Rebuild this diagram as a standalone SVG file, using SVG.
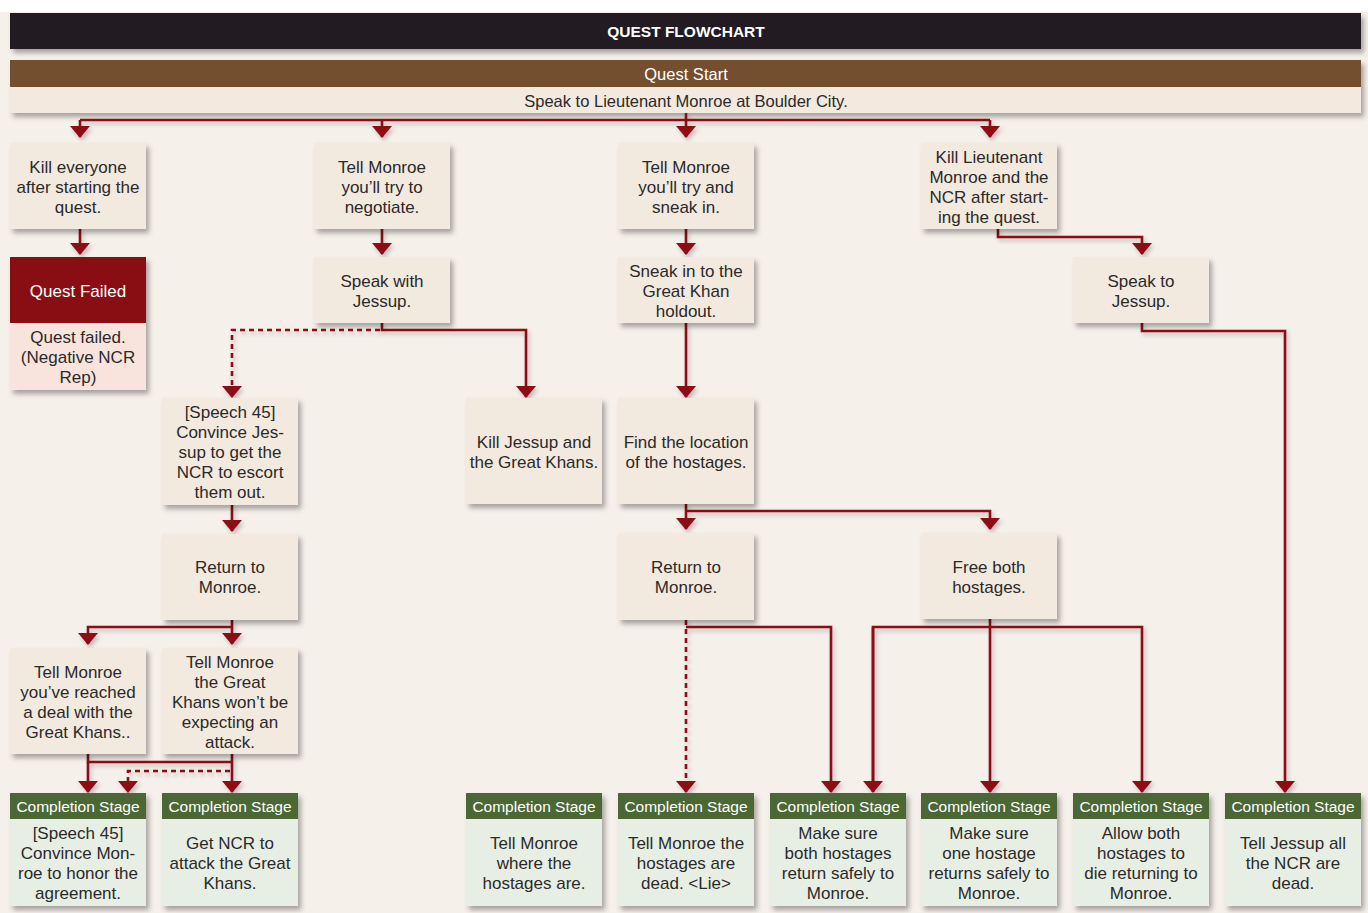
<svg xmlns="http://www.w3.org/2000/svg" width="1368" height="913" viewBox="0 0 1368 913">
<defs>
<filter id="sh" x="-10%" y="-10%" width="125%" height="130%">
<feDropShadow dx="3" dy="4" stdDeviation="2.5" flood-color="#000" flood-opacity="0.32"/>
</filter>
<filter id="shl" x="-5%" y="-5%" width="115%" height="120%">
<feDropShadow dx="2" dy="3" stdDeviation="2" flood-color="#000" flood-opacity="0.22"/>
</filter>
<marker id="ah" viewBox="0 -10 12 20" markerWidth="12" markerHeight="20" refX="11" refY="0" orient="auto" markerUnits="userSpaceOnUse">
<path d="M0,-10 L12,0 L0,10 Z" fill="#8b1016"/>
</marker>
<style>
.bg{fill:#f6f0ea}
.box{fill:#f2e9df;filter:url(#sh)}
.t{font-family:"Liberation Sans",Arial,sans-serif;font-size:17px;fill:#2b2a29;text-anchor:middle}
.w{fill:#ffffff}
.ghd{fill:#4a6735}
.gbd{fill:#e7eee4}
.rhd{fill:#890e13}
.rbd{fill:#f8e4dd}
.c{fill:none;stroke:#8b1016;stroke-width:2.6}
.d{stroke-dasharray:5 4}
.a{marker-end:url(#ah)}
</style>
</defs>
<rect x="0" y="0" width="1368" height="913" class="bg"/>
<rect x="0" y="0" width="1368" height="12" fill="#ffffff"/>

<g id="title">
<rect x="10" y="13" width="1351" height="36" fill="#231f20" filter="url(#sh)"/>
<text x="686" y="37" class="t w" style="font-weight:bold;font-size:15.5px">QUEST FLOWCHART</text>
</g>

<g id="start">
<rect x="10" y="60" width="1351" height="53" class="box"/>
<rect x="10" y="60" width="1351" height="27" fill="#734f2f"/>
<text x="686" y="80" class="t w" style="font-size:16.5px">Quest Start</text>
<text x="686" y="107" class="t" style="font-size:16.5px">Speak to Lieutenant Monroe at Boulder City.</text>
</g>

<g id="connectors" filter="url(#shl)">
<path class="c" d="M686,113 V120 M80,120 H990"/>
<path class="c a" d="M80,120 V137"/>
<path class="c a" d="M382,120 V137"/>
<path class="c a" d="M686,120 V137"/>
<path class="c a" d="M990,120 V137"/>

<path class="c a" d="M80,229 V254"/>
<path class="c a" d="M382,229 V254"/>
<path class="c a" d="M686,229 V254"/>
<path class="c a" d="M998,229 V237 H1142 V254"/>

<path class="c a" d="M382,323 V330 H526 V397"/>
<path class="c d a" d="M380,330 H232 V397"/>
<path class="c a" d="M686,323 V397"/>
<path class="c a" d="M1142,323 V331 H1285 V792"/>

<path class="c a" d="M232,505 V531"/>
<path class="c a" d="M686,504 V529"/>
<path class="c a" d="M686,511 H990 V529"/>

<path class="c a" d="M232,620 V644"/>
<path class="c a" d="M232,627 H88 V644"/>

<path class="c" d="M88,754 V762 H232"/>
<path class="c a" d="M88,762 V792"/>
<path class="c a" d="M232,754 V792"/>
<path class="c d a" d="M230,771 H128 V792"/>

<path class="c d a" d="M686,620 V792"/>
<path class="c a" d="M686,627 H831 V792"/>
<path class="c a" d="M990,619 V792"/>
<path class="c a" d="M873,792 V627 H1142 V792"/>
<path class="c a" d="M873,627 V792"/>
</g>

<g id="n-kill-everyone">
<rect x="10" y="143" width="136" height="86" class="box"/>
<text class="t"><tspan x="78" y="173">Kill everyone</tspan><tspan x="78" y="193">after starting the</tspan><tspan x="78" y="213">quest.</tspan></text>
</g>
<g id="n-negotiate">
<rect x="314" y="143" width="136" height="86" class="box"/>
<text class="t"><tspan x="382" y="173">Tell Monroe</tspan><tspan x="382" y="193">you’ll try to</tspan><tspan x="382" y="213">negotiate.</tspan></text>
</g>
<g id="n-sneak">
<rect x="618" y="143" width="136" height="86" class="box"/>
<text class="t"><tspan x="686" y="173">Tell Monroe</tspan><tspan x="686" y="193">you’ll try and</tspan><tspan x="686" y="213">sneak in.</tspan></text>
</g>
<g id="n-kill-monroe">
<rect x="921" y="143" width="136" height="86" class="box"/>
<text class="t"><tspan x="989" y="163">Kill Lieutenant</tspan><tspan x="989" y="183">Monroe and the</tspan><tspan x="989" y="203">NCR after start-</tspan><tspan x="989" y="223">ing the quest.</tspan></text>
</g>

<g id="n-failed">
<rect x="10" y="257" width="136" height="133" class="box"/>
<rect x="10" y="323" width="136" height="67" class="rbd"/>
<rect x="10" y="257" width="136" height="66" class="rhd"/>
<text x="78" y="297" class="t w">Quest Failed</text>
<text class="t"><tspan x="78" y="343">Quest failed.</tspan><tspan x="78" y="363">(Negative NCR</tspan><tspan x="78" y="383">Rep)</tspan></text>
</g>
<g id="n-speak-jessup">
<rect x="314" y="257" width="136" height="66" class="box"/>
<text class="t"><tspan x="382" y="287">Speak with</tspan><tspan x="382" y="307">Jessup.</tspan></text>
</g>
<g id="n-sneak-holdout">
<rect x="618" y="257" width="136" height="66" class="box"/>
<text class="t"><tspan x="686" y="277">Sneak in to the</tspan><tspan x="686" y="297">Great Khan</tspan><tspan x="686" y="317">holdout.</tspan></text>
</g>
<g id="n-speak-to-jessup">
<rect x="1073" y="257" width="136" height="66" class="box"/>
<text class="t"><tspan x="1141" y="287">Speak to</tspan><tspan x="1141" y="307">Jessup.</tspan></text>
</g>

<g id="n-speech-jessup">
<rect x="162" y="398" width="136" height="107" class="box"/>
<text class="t"><tspan x="230" y="418">[Speech 45]</tspan><tspan x="230" y="438">Convince Jes-</tspan><tspan x="230" y="458">sup to get the</tspan><tspan x="230" y="478">NCR to escort</tspan><tspan x="230" y="498">them out.</tspan></text>
</g>
<g id="n-kill-jessup">
<rect x="466" y="398" width="136" height="106" class="box"/>
<text class="t"><tspan x="534" y="448">Kill Jessup and</tspan><tspan x="534" y="468">the Great Khans.</tspan></text>
</g>
<g id="n-find">
<rect x="618" y="398" width="136" height="106" class="box"/>
<text class="t"><tspan x="686" y="448">Find the location</tspan><tspan x="686" y="468">of the hostages.</tspan></text>
</g>

<g id="n-return1">
<rect x="162" y="534" width="136" height="86" class="box"/>
<text class="t"><tspan x="230" y="573">Return to</tspan><tspan x="230" y="593">Monroe.</tspan></text>
</g>
<g id="n-return2">
<rect x="618" y="533" width="136" height="87" class="box"/>
<text class="t"><tspan x="686" y="573">Return to</tspan><tspan x="686" y="593">Monroe.</tspan></text>
</g>
<g id="n-free">
<rect x="921" y="533" width="136" height="86" class="box"/>
<text class="t"><tspan x="989" y="573">Free both</tspan><tspan x="989" y="593">hostages.</tspan></text>
</g>

<g id="n-deal">
<rect x="10" y="648" width="136" height="106" class="box"/>
<text class="t"><tspan x="78" y="678">Tell Monroe</tspan><tspan x="78" y="698">you’ve reached</tspan><tspan x="78" y="718">a deal with the</tspan><tspan x="78" y="738">Great Khans..</tspan></text>
</g>
<g id="n-attack">
<rect x="162" y="648" width="136" height="106" class="box"/>
<text class="t"><tspan x="230" y="668">Tell Monroe</tspan><tspan x="230" y="688">the Great</tspan><tspan x="230" y="708">Khans won’t be</tspan><tspan x="230" y="728">expecting an</tspan><tspan x="230" y="748">attack.</tspan></text>
</g>

<g id="c-honor">
<rect x="10" y="793" width="136" height="113" class="gbd" filter="url(#sh)"/>
<rect x="10" y="793" width="136" height="26" class="ghd"/>
<text x="78" y="812" class="t w" style="font-size:15.5px">Completion Stage</text>
<text class="t"><tspan x="78" y="839">[Speech 45]</tspan><tspan x="78" y="859">Convince Mon-</tspan><tspan x="78" y="879">roe to honor the</tspan><tspan x="78" y="899">agreement.</tspan></text>
</g>
<g id="c-attack">
<rect x="162" y="793" width="136" height="113" class="gbd" filter="url(#sh)"/>
<rect x="162" y="793" width="136" height="26" class="ghd"/>
<text x="230" y="812" class="t w" style="font-size:15.5px">Completion Stage</text>
<text class="t"><tspan x="230" y="849">Get NCR to</tspan><tspan x="230" y="869">attack the Great</tspan><tspan x="230" y="889">Khans.</tspan></text>
</g>
<g id="c-where">
<rect x="466" y="793" width="136" height="113" class="gbd" filter="url(#sh)"/>
<rect x="466" y="793" width="136" height="26" class="ghd"/>
<text x="534" y="812" class="t w" style="font-size:15.5px">Completion Stage</text>
<text class="t"><tspan x="534" y="849">Tell Monroe</tspan><tspan x="534" y="869">where the</tspan><tspan x="534" y="889">hostages are.</tspan></text>
</g>
<g id="c-lie">
<rect x="618" y="793" width="136" height="113" class="gbd" filter="url(#sh)"/>
<rect x="618" y="793" width="136" height="26" class="ghd"/>
<text x="686" y="812" class="t w" style="font-size:15.5px">Completion Stage</text>
<text class="t"><tspan x="686" y="849">Tell Monroe the</tspan><tspan x="686" y="869">hostages are</tspan><tspan x="686" y="889">dead. &lt;Lie&gt;</tspan></text>
</g>
<g id="c-both">
<rect x="770" y="793" width="136" height="113" class="gbd" filter="url(#sh)"/>
<rect x="770" y="793" width="136" height="26" class="ghd"/>
<text x="838" y="812" class="t w" style="font-size:15.5px">Completion Stage</text>
<text class="t"><tspan x="838" y="839">Make sure</tspan><tspan x="838" y="859">both hostages</tspan><tspan x="838" y="879">return safely to</tspan><tspan x="838" y="899">Monroe.</tspan></text>
</g>
<g id="c-one">
<rect x="921" y="793" width="136" height="113" class="gbd" filter="url(#sh)"/>
<rect x="921" y="793" width="136" height="26" class="ghd"/>
<text x="989" y="812" class="t w" style="font-size:15.5px">Completion Stage</text>
<text class="t"><tspan x="989" y="839">Make sure</tspan><tspan x="989" y="859">one hostage</tspan><tspan x="989" y="879">returns safely to</tspan><tspan x="989" y="899">Monroe.</tspan></text>
</g>
<g id="c-die">
<rect x="1073" y="793" width="136" height="113" class="gbd" filter="url(#sh)"/>
<rect x="1073" y="793" width="136" height="26" class="ghd"/>
<text x="1141" y="812" class="t w" style="font-size:15.5px">Completion Stage</text>
<text class="t"><tspan x="1141" y="839">Allow both</tspan><tspan x="1141" y="859">hostages to</tspan><tspan x="1141" y="879">die returning to</tspan><tspan x="1141" y="899">Monroe.</tspan></text>
</g>
<g id="c-ncr-dead">
<rect x="1225" y="793" width="136" height="113" class="gbd" filter="url(#sh)"/>
<rect x="1225" y="793" width="136" height="26" class="ghd"/>
<text x="1293" y="812" class="t w" style="font-size:15.5px">Completion Stage</text>
<text class="t"><tspan x="1293" y="849">Tell Jessup all</tspan><tspan x="1293" y="869">the NCR are</tspan><tspan x="1293" y="889">dead.</tspan></text>
</g>
</svg>
